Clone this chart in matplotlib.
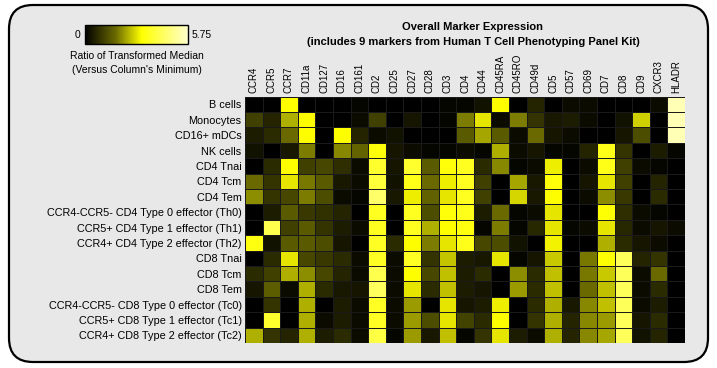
import matplotlib
matplotlib.use("Agg")
import matplotlib.pyplot as plt
import numpy as np
from matplotlib.colors import LinearSegmentedColormap
from matplotlib.patches import FancyBboxPatch
from matplotlib.transforms import IdentityTransform

plt.rcParams['font.family'] = ['Liberation Sans', 'DejaVu Sans']

markers = ['CCR4', 'CCR5', 'CCR7', 'CD11a', 'CD127', 'CD16', 'CD161', 'CD2', 'CD25',
           'CD27', 'CD28', 'CD3', 'CD4', 'CD44', 'CD45RA', 'CD45RO', 'CD49d', 'CD5',
           'CD57', 'CD69', 'CD7', 'CD8', 'CD9', 'CXCR3', 'HLADR']

cell_types = ['B cells', 'Monocytes', 'CD16+ mDCs', 'NK cells', 'CD4 Tnai', 'CD4 Tcm',
              'CD4 Tem', 'CCR4-CCR5- CD4 Type 0 effector (Th0)',
              'CCR5+ CD4 Type 1 effector (Th1)', 'CCR4+ CD4 Type 2 effector (Th2)',
              'CD8 Tnai', 'CD8 Tcm', 'CD8 Tem', 'CCR4-CCR5- CD8 Type 0 effector (Tc0)',
              'CCR5+ CD8 Type 1 effector (Tc1)', 'CCR4+ CD8 Type 2 effector (Tc2)']

# ratio of transformed median (0 .. 5.75), one row per cell type
b_cells = [0, 0, 3.15, 0, 0, 0, 0.1, 0, 0, 0, 0, 0.1, 0.1, 0.3, 3.15, 0, 0.6, 0, 0.2, 0.2, 0, 0, 0, 0.2, 5.45]
monocytes = [1.05, 0.6, 2.4, 3.15, 0, 0, 0.2, 1.05, 0, 0.35, 0, 0.1, 1.9, 2.9, 0.2, 1.9, 0.85, 0.4, 0.45, 0.2, 0, 0.3, 2.7, 0, 5.45]
mdcs = [0.45, 0.7, 1.7, 3.15, 0, 3.15, 0.6, 0.2, 0.3, 0, 0, 0, 1.45, 2.3, 1.45, 0.2, 1.7, 0.35, 0.2, 0, 0, 0.35, 1.25, 0, 5.45]
nk_cells = [0.3, 0, 0.4, 1.9, 0, 2.0, 1.6, 3.3, 0.35, 0.2, 0.1, 0.1, 0.2, 0.1, 2.4, 0.2, 0.35, 0.1, 0.1, 0.6, 3.45, 0.85, 0, 0.45, 0.1]
cd4_tnai = [0, 0.7, 3.15, 1.05, 1.15, 0.75, 0.2, 3.75, 0.35, 3.75, 1.45, 3.3, 3.55, 0.7, 2.0, 0.1, 0.2, 3.0, 0, 0.2, 3.45, 1.05, 0.2, 0.1, 0]
cd4_tcm = [1.7, 0.85, 2.9, 1.85, 1.45, 0.4, 0.2, 3.9, 0.3, 3.45, 1.7, 3.0, 3.55, 1.05, 0, 2.3, 0.4, 3.3, 0, 0.35, 2.9, 1.05, 0, 0.6, 0]
cd4_tem = [2.05, 0.85, 1.15, 1.9, 1.25, 0.2, 0.1, 4.5, 0.4, 3.0, 1.55, 2.9, 3.55, 1.05, 0, 2.75, 0.4, 3.15, 0, 0.2, 2.05, 0.9, 0, 0.7, 0]
th0 = [0, 0.45, 1.45, 0.9, 0.8, 0.6, 0, 3.55, 0, 3.55, 1.25, 3.3, 3.5, 0.45, 1.7, 0.1, 0.2, 2.9, 0, 0, 3.2, 0.75, 0.2, 0.1, 0]
th1 = [0, 4.15, 1.05, 1.45, 0.85, 0.45, 0.2, 3.55, 0, 3.55, 2.4, 3.15, 3.35, 0.1, 1.9, 0.1, 0.65, 2.9, 0.1, 0.2, 2.9, 0.65, 0.2, 0.35, 0.2]
th2 = [3.35, 0.3, 1.45, 1.45, 1.25, 0.35, 0, 3.6, 0.7, 3.15, 1.9, 2.9, 3.5, 1.15, 1.25, 0.3, 0, 3.05, 0, 0, 2.4, 0.7, 0.35, 0.2, 0]
cd8_tnai = [0, 0.7, 2.9, 1.15, 0.9, 0.7, 0.2, 3.6, 0.2, 3.6, 0.85, 2.6, 0.45, 0.4, 2.9, 0.1, 0.35, 2.65, 0, 1.85, 3.2, 4.3, 0.6, 0.85, 0]
cd8_tcm = [0.7, 1.05, 2.4, 2.05, 1.15, 0.6, 0.2, 4.15, 0.2, 3.15, 1.15, 2.55, 0.45, 0.7, 0, 2.05, 0.7, 2.55, 0, 1.85, 2.65, 4.3, 0.2, 1.7, 0]
cd8_tem = [0.35, 1.5, 0.2, 2.4, 0.7, 0.4, 0.35, 4.35, 0.2, 2.9, 0.7, 2.55, 0.45, 0.35, 0, 2.2, 0.7, 2.55, 0, 1.7, 2.55, 4.3, 0.2, 0.7, 0]
tc0 = [0, 0.85, 0, 2.4, 0, 0.45, 0.2, 3.6, 0.2, 2.2, 0, 2.9, 0.35, 0.45, 3.0, 0, 0.7, 2.4, 0.4, 2.0, 2.55, 4.3, 0.2, 0.45, 0]
tc1 = [0, 3.75, 0, 2.4, 0.2, 0.45, 0.2, 3.6, 0.2, 2.2, 1.25, 2.9, 1.1, 0.7, 3.15, 0, 0.85, 2.4, 0.6, 2.0, 2.2, 4.3, 0.35, 0.7, 0]
tc2 = [2.4, 0.85, 0.6, 2.4, 0.45, 0.7, 0.2, 4.0, 0.1, 2.2, 0.4, 2.55, 0.1, 0.85, 2.9, 0.45, 0.2, 2.4, 0.6, 2.0, 2.3, 4.3, 0.3, 0.6, 0]

vmin, vmax = 0, 5.75

data = np.array([b_cells, monocytes, mdcs, nk_cells, cd4_tnai, cd4_tcm, cd4_tem,
                 th0, th1, th2, cd8_tnai, cd8_tcm, cd8_tem, tc0, tc1, tc2])

cmap = LinearSegmentedColormap.from_list(
    'blk_yel', [(0, '#000000'), (0.3, '#6b6b00'), (0.55, '#ffff00'), (1.0, '#ffffcc')])

W, H = 717, 368
fig = plt.figure(figsize=(W / 100, H / 100), dpi=100)
fig.patch.set_facecolor('white')

# rounded frame behind everything
frame = FancyBboxPatch((9 + 24, 6 + 24), 699 - 48, 357 - 48,
                       boxstyle='round,pad=24', transform=IdentityTransform(),
                       facecolor='#e8e8e8', edgecolor='black', linewidth=1.6, zorder=0)
fig.add_artist(frame)

ax = fig.add_axes([245 / W, 1 - 343 / H, 440 / W, 246.3 / H])
mesh = ax.pcolormesh(data, cmap=cmap, vmin=vmin, vmax=vmax,
                     edgecolors='#1a1a1a', linewidth=0.7)
ax.set_xlim(0, len(markers))
ax.set_ylim(len(cell_types), 0)
ax.set_xticks(np.arange(len(markers)) + 0.5)
ax.set_xticklabels(markers, rotation=90, fontsize=7,
                   family=['Liberation Sans Narrow', 'Liberation Sans'])
ax.xaxis.tick_top()
ax.set_yticks(np.arange(len(cell_types)) + 0.5)
ax.set_yticklabels(cell_types, fontsize=7.8)
ax.tick_params(length=0, pad=2.5)
for s in ax.spines.values():
    s.set_visible(False)

cax = fig.add_axes([85 / W, 1 - 44 / H, 103 / W, 19 / H])
cb = fig.colorbar(mesh, cax=cax, orientation='horizontal')
cb.set_ticks([])
cb.outline.set_linewidth(1.0)

fig.text(80 / W, 1 - 35 / H, '0', ha='right', va='center', fontsize=7.5)
fig.text(192 / W, 1 - 35 / H, '5.75', ha='left', va='center', fontsize=7.5)
fig.text(137 / W, 1 - 56 / H, 'Ratio of Transformed Median', ha='center', va='center', fontsize=7.5)
fig.text(137 / W, 1 - 70 / H, "(Versus Column's Minimum)", ha='center', va='center', fontsize=7.5)

fig.text(473 / W, 1 - 27 / H, 'Overall Marker Expression', ha='center', va='center',
         fontsize=8, fontweight='bold')
fig.text(473 / W, 1 - 42 / H, '(includes 9 markers from Human T Cell Phenotyping Panel Kit)',
         ha='center', va='center', fontsize=8, fontweight='bold')

fig.savefig('out.png', dpi=100)
